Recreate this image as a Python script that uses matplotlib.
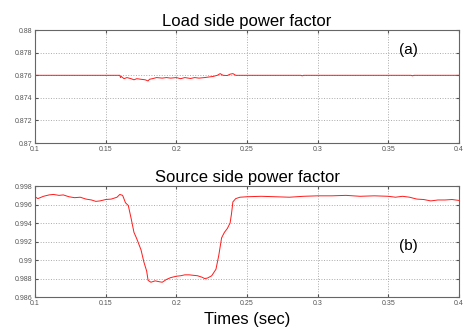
import matplotlib.pyplot as plt

plt.rcParams['font.family'] = ['Liberation Sans', 'DejaVu Sans']

# load side power factor (a)
t_load = [0.100, 0.120, 0.140, 0.160, 0.1605, 0.161, 0.163, 0.165, 0.168, 0.170, 0.172,
          0.175, 0.178, 0.180, 0.181, 0.183, 0.186, 0.190, 0.193, 0.196, 0.200, 0.203,
          0.206, 0.210, 0.213, 0.216, 0.220, 0.223, 0.226, 0.229, 0.231, 0.233, 0.236,
          0.238, 0.240, 0.242, 0.245, 0.26, 0.288, 0.289, 0.290, 0.32, 0.366, 0.367,
          0.368, 0.40]
pf_load = [0.8760, 0.8760, 0.8760, 0.8760, 0.8758, 0.8759, 0.8757, 0.8758, 0.8757, 0.8756,
           0.8757, 0.87565, 0.8756, 0.8755, 0.87565, 0.8757, 0.8758, 0.87575, 0.8758,
           0.87575, 0.8758, 0.8757, 0.8758, 0.87572, 0.8758, 0.87575, 0.8758, 0.87585,
           0.8759, 0.8760, 0.87615, 0.8760, 0.87598, 0.8761, 0.87615, 0.8760, 0.8760,
           0.8760, 0.8760, 0.87595, 0.8760, 0.8760, 0.8760, 0.87595, 0.8760, 0.8760]

# source side power factor (b)
t_src = [0.100, 0.102, 0.106, 0.110, 0.113, 0.117, 0.120, 0.124, 0.128, 0.132, 0.136,
         0.140, 0.143, 0.146, 0.150, 0.154, 0.158, 0.160, 0.162, 0.164, 0.166, 0.168,
         0.170, 0.172, 0.175, 0.177, 0.179, 0.180, 0.182, 0.185, 0.188, 0.190, 0.193,
         0.196, 0.200, 0.203, 0.206, 0.209, 0.212, 0.215, 0.218, 0.220, 0.222, 0.225,
         0.228, 0.230, 0.232, 0.234, 0.236, 0.238, 0.239, 0.240, 0.242, 0.245, 0.250,
         0.260, 0.270, 0.280, 0.290, 0.300, 0.310, 0.320, 0.330, 0.340, 0.350, 0.355,
         0.360, 0.365, 0.370, 0.375, 0.380, 0.385, 0.390, 0.395, 0.400]
pf_src = [0.99685, 0.99665, 0.99690, 0.99705, 0.99710, 0.99700, 0.99705, 0.99685,
          0.99675, 0.99680, 0.99660, 0.99650, 0.99635, 0.99640, 0.99655, 0.99660,
          0.99680, 0.99710, 0.99700, 0.99620, 0.99590, 0.99450, 0.99300, 0.99230,
          0.99110, 0.98980, 0.98880, 0.98780, 0.98760, 0.98775, 0.98765, 0.98760,
          0.98790, 0.98810, 0.98825, 0.98830, 0.98840, 0.98840, 0.98835, 0.98830,
          0.98815, 0.98800, 0.98805, 0.98830, 0.98900, 0.99050, 0.99240, 0.99300,
          0.99340, 0.99400, 0.99500, 0.99630, 0.99665, 0.99680, 0.99685, 0.99690,
          0.99685, 0.99680, 0.99690, 0.99695, 0.99695, 0.99700, 0.99690, 0.99695,
          0.99690, 0.99680, 0.99690, 0.99680, 0.99660, 0.99655, 0.99640, 0.99650,
          0.99650, 0.99655, 0.99645]

x_ticks = [0.1, 0.15, 0.2, 0.25, 0.3, 0.35, 0.4]
x_labels = ['0.1', '0.15', '0.2', '0.25', '0.3', '0.35', '0.4']
y_ticks_a = [0.87, 0.872, 0.874, 0.876, 0.878, 0.88]
y_labels_a = ['0.87', '0.872', '0.874', '0.876', '0.878', '0.88']
y_ticks_b = [0.986, 0.988, 0.99, 0.992, 0.994, 0.996, 0.998]
y_labels_b = ['0.986', '0.988', '0.99', '0.992', '0.994', '0.996', '0.998']


def style_axes(ax, yt, yl, ylim):
    ax.set_xlim(0.1, 0.4)
    ax.set_ylim(*ylim)
    ax.set_xticks(x_ticks)
    ax.set_xticklabels(x_labels)
    ax.set_yticks(yt)
    ax.set_yticklabels(yl)
    ax.tick_params(labelsize=5, colors='#555555', direction='in', length=2,
                   top=True, right=True, pad=2)
    ax.grid(True, linestyle=':', color='#aaaaaa', linewidth=0.7)
    for s in ax.spines.values():
        s.set_color('#666666')
        s.set_linewidth(0.8)


fig = plt.figure(figsize=(4.77, 3.35), dpi=100)
ax1 = fig.add_axes([0.0734, 0.573, 0.889, 0.337])
ax2 = fig.add_axes([0.0734, 0.1134, 0.889, 0.331])

ax1.plot(t_load, pf_load, color='#ff1a1a', linewidth=0.7)
style_axes(ax1, y_ticks_a, y_labels_a, (0.87, 0.88))
ax1.set_title('Load side power factor', fontsize=12, pad=3)
ax1.text(0.88, 0.82, '(a)', transform=ax1.transAxes, fontsize=11, ha='center', va='center')

ax2.plot(t_src, pf_src, color='#ff1a1a', linewidth=0.7)
style_axes(ax2, y_ticks_b, y_labels_b, (0.986, 0.998))
ax2.set_title('Source side power factor', fontsize=12, pad=3)
ax2.text(0.88, 0.46, '(b)', transform=ax2.transAxes, fontsize=11, ha='center', va='center')
ax2.set_xlabel('Times (sec)', fontsize=12, labelpad=4)

fig.savefig('out.png', dpi=100)
